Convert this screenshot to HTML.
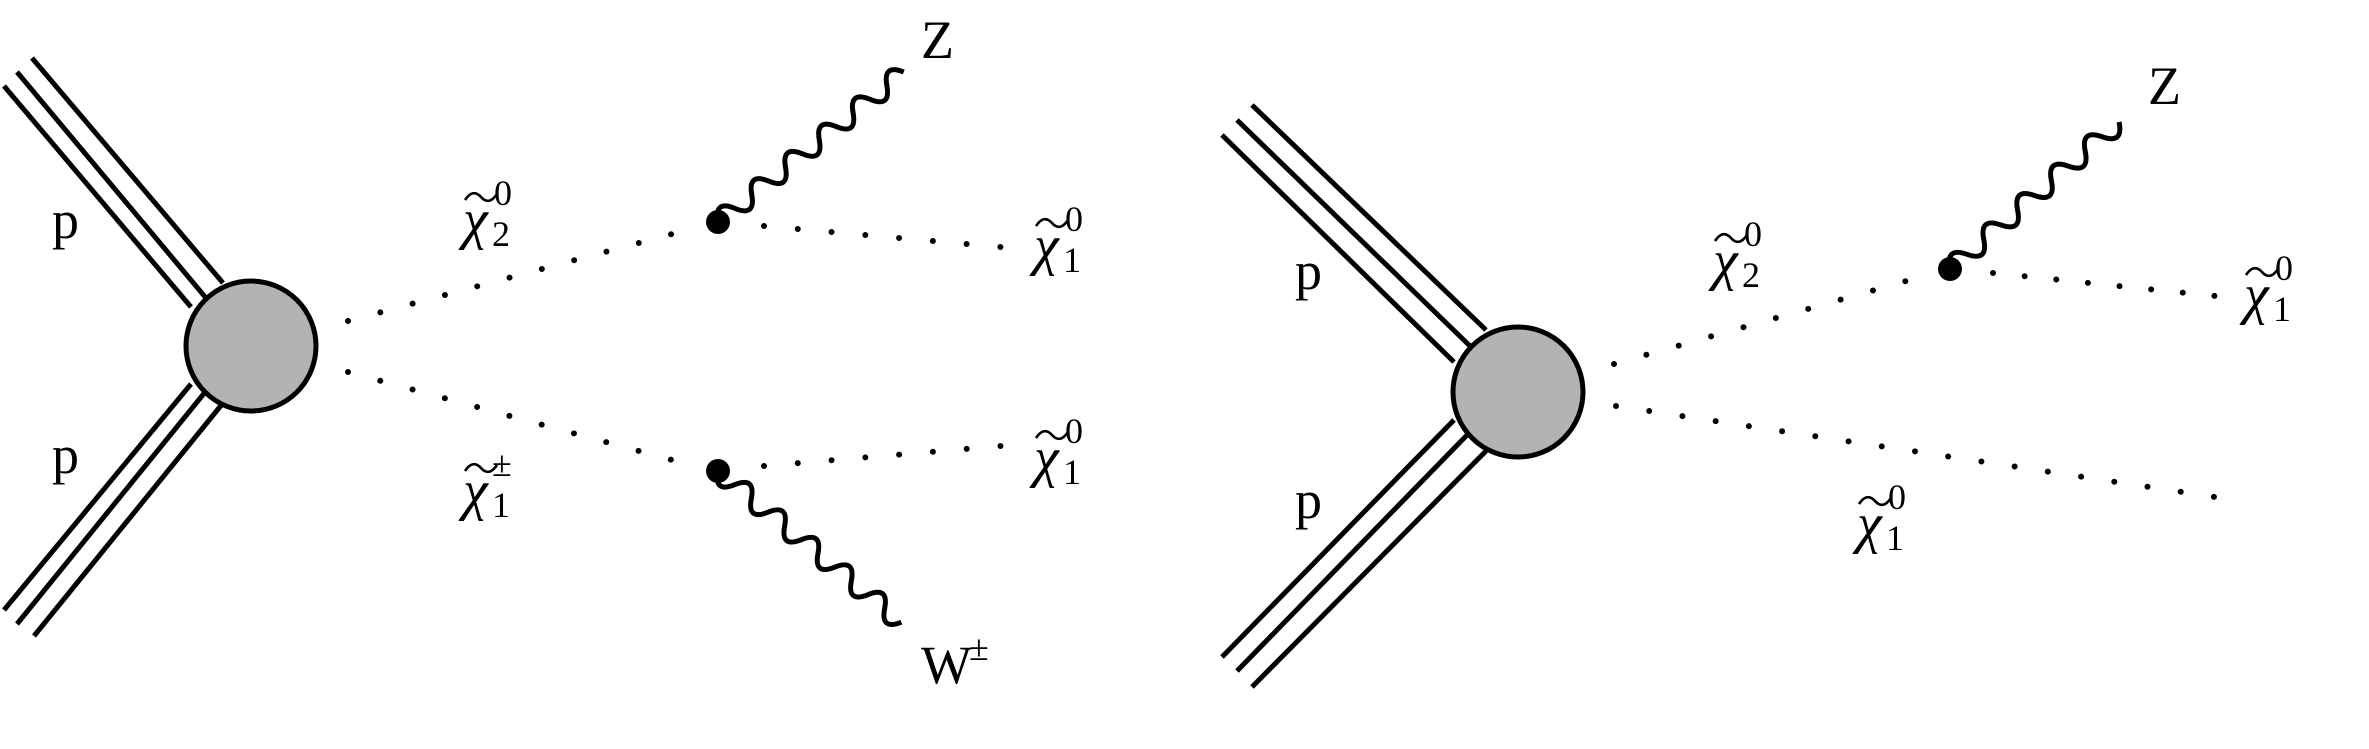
<!DOCTYPE html>
<html><head><meta charset="utf-8"><style>
html,body{margin:0;padding:0;background:#fff;}
svg{display:block;}
text{font-family:"Liberation Serif",serif;fill:#000;}
.c{font-style:italic;font-size:56px;font-family:"Liberation Serif",serif;}
.s{font-size:36px;}
.m{font-size:54px;}
</style></head><body>
<svg width="2369" height="749" viewBox="0 0 2369 749" xmlns="http://www.w3.org/2000/svg">
<defs>
<path id="t" d="M0,4 q8,-12 16,-3 t16,-3" stroke="#000" stroke-width="2.6" fill="none"/>
</defs>
<g stroke="#000" stroke-width="5" fill="none" stroke-linecap="butt">
<line x1="4" y1="86" x2="191" y2="307"/><line x1="17" y1="72" x2="206" y2="298"/><line x1="32" y1="58" x2="223" y2="283"/>
<line x1="4" y1="610" x2="191" y2="384"/><line x1="17" y1="624" x2="206" y2="391"/><line x1="34" y1="636" x2="223" y2="403"/>
<line x1="1222" y1="135" x2="1454" y2="362"/><line x1="1237" y1="120" x2="1470" y2="346"/><line x1="1252" y1="105" x2="1486" y2="330"/>
<line x1="1222" y1="657" x2="1454" y2="420"/><line x1="1237" y1="671" x2="1470" y2="432"/><line x1="1252" y1="687" x2="1486" y2="451"/>
</g>
<g stroke="#000" stroke-width="6" stroke-linecap="round" fill="none">
<line x1="348" y1="321" x2="674" y2="233.5" stroke-dasharray="0 33.45"/>
<line x1="764" y1="226" x2="1003" y2="247.2" stroke-dasharray="0 33.9"/>
<line x1="348" y1="372" x2="674" y2="460.5" stroke-dasharray="0 33.45"/>
<line x1="764" y1="466" x2="1003" y2="445.8" stroke-dasharray="0 33.9"/>
<line x1="1614" y1="364" x2="1908" y2="280.5" stroke-dasharray="0 33.65"/>
<line x1="1993" y1="273" x2="2217" y2="296.2" stroke-dasharray="0 31.8"/>
<line x1="1616" y1="406" x2="2217" y2="497.3" stroke-dasharray="0 33.6"/>
</g>
<g stroke="#000" stroke-width="5" fill="none">
<path transform="translate(718,222) rotate(-38.9)" d="M0,0 q10.85,-20 21.7,0 t21.7,0 t21.7,0 t21.7,0 t21.7,0 t21.7,0 t21.7,0 t21.7,0 t21.7,0 t21.7,0 t21.7,0"/>
<path transform="translate(718,471) rotate(39.5)" d="M0,0 q10.8,20 21.6,0 t21.6,0 t21.6,0 t21.6,0 t21.6,0 t21.6,0 t21.6,0 t21.6,0 t21.6,0 t21.6,0 t21.6,0"/>
<path transform="translate(1950,269) rotate(-41)" d="M0,0 q11.2,-20 22.4,0 t22.4,0 t22.4,0 t22.4,0 t22.4,0 t22.4,0 t22.4,0 t22.4,0 t22.4,0 t22.4,0"/>
</g>
<circle cx="251" cy="346" r="65" fill="#b3b3b3" stroke="#000" stroke-width="5"/>
<circle cx="1518" cy="392" r="65" fill="#b3b3b3" stroke="#000" stroke-width="5"/>
<circle cx="718" cy="222" r="12" fill="#000"/>
<circle cx="718" cy="471" r="12" fill="#000"/>
<circle cx="1950" cy="269" r="12" fill="#000"/>
<text class="m" x="52" y="238">p</text>
<text class="m" x="52" y="473">p</text>
<text class="m" x="1295" y="289">p</text>
<text class="m" x="1295" y="518">p</text>
<text class="m" x="921" y="58">Z</text>
<text class="m" x="2148" y="104">Z</text>
<text class="m" x="921" y="683">W</text><text class="s" x="969" y="660">±</text>
<use href="#t" x="465" y="196"/><text class="c" x="463" y="238">χ</text><text class="s" x="492" y="246">2</text><text class="s" x="494" y="205">0</text>
<use href="#t" x="465" y="467"/><text class="c" x="463" y="509">χ</text><text class="s" x="492" y="517">1</text><text class="s" x="492" y="476">±</text>
<use href="#t" x="1036" y="222"/><text class="c" x="1034" y="264">χ</text><text class="s" x="1063" y="272">1</text><text class="s" x="1065" y="231">0</text>
<use href="#t" x="1036" y="434"/><text class="c" x="1034" y="476">χ</text><text class="s" x="1063" y="484">1</text><text class="s" x="1065" y="443">0</text>
<use href="#t" x="1715" y="237"/><text class="c" x="1713" y="279">χ</text><text class="s" x="1742" y="287">2</text><text class="s" x="1744" y="246">0</text>
<use href="#t" x="2246" y="271"/><text class="c" x="2244" y="313">χ</text><text class="s" x="2273" y="321">1</text><text class="s" x="2275" y="280">0</text>
<use href="#t" x="1859" y="500"/><text class="c" x="1857" y="542">χ</text><text class="s" x="1886" y="550">1</text><text class="s" x="1888" y="509">0</text>
</svg>
</body></html>
